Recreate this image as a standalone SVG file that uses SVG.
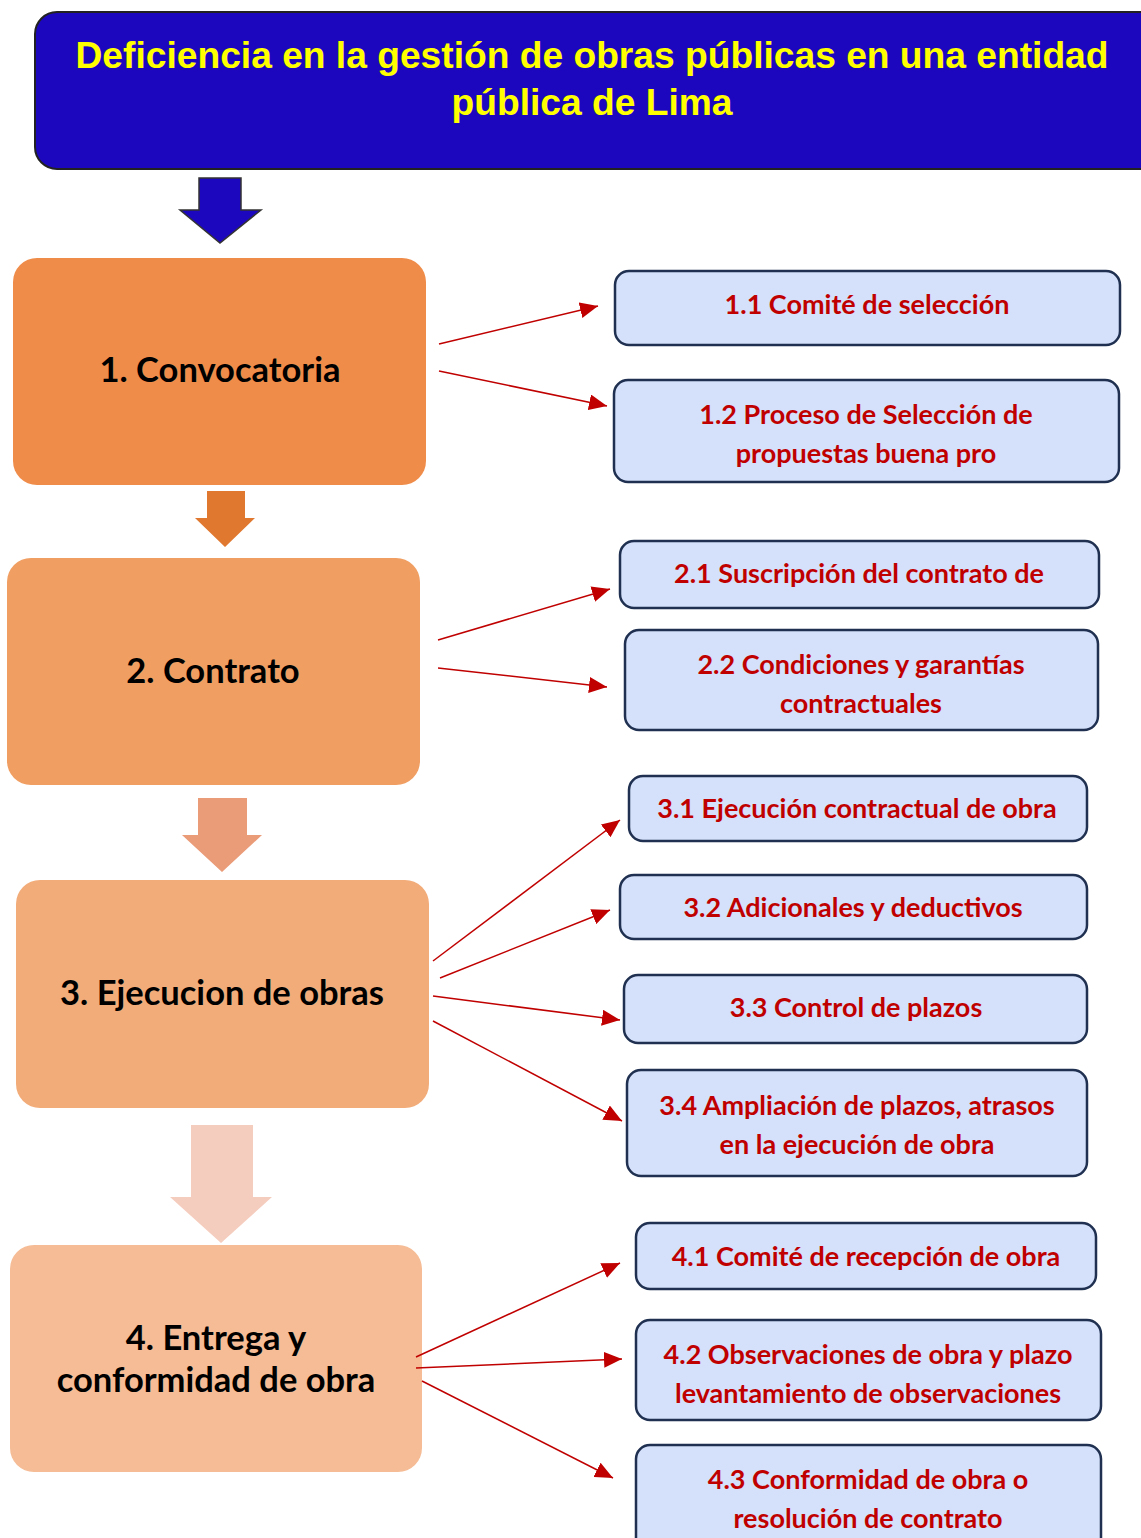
<svg xmlns="http://www.w3.org/2000/svg" width="1141" height="1538" viewBox="0 0 1141 1538">
<defs>
<style>
.main{font-family:Lato,"Open Sans",sans-serif;font-weight:bold;font-size:34.5px;fill:#000;text-anchor:middle}
.sub{font-family:Lato,"Open Sans",sans-serif;font-weight:bold;font-size:27px;fill:#C00000;text-anchor:middle}
.sbox{fill:#D5E0FB;stroke:#1F3050;stroke-width:2.5}
.con{stroke:#C00000;stroke-width:1.5;fill:none;marker-end:url(#ah)}
.hdr{font-family:"Liberation Sans",Arial,sans-serif;font-weight:bold;font-size:37px;fill:#FFFF00;text-anchor:middle}
</style>
<marker id="ah" markerUnits="userSpaceOnUse" markerWidth="20" markerHeight="16" refX="18" refY="8" orient="auto">
<path d="M0,0 L18,8 L0,16 Z" fill="#C00000"/>
</marker>
</defs>
<rect width="1141" height="1538" fill="#fff"/>

<g id="header">
<rect x="35" y="12" width="1130" height="157" rx="22" fill="#1C07BE" stroke="#222" stroke-width="2"/>
<text class="hdr" x="592" y="68" textLength="1033" lengthAdjust="spacingAndGlyphs">Deficiencia en la gestión de obras públicas en una entidad</text>
<text class="hdr" x="592" y="115" textLength="281" lengthAdjust="spacingAndGlyphs">pública de Lima</text>
</g>

<g id="arrow0"><path d="M199,178 H241 V210 H261 L220,243 L180,210 H199 Z" fill="#1C07BE" stroke="#333" stroke-width="1.5"/></g>

<g id="n1">
<rect x="13" y="258" width="413" height="227" rx="24" fill="#EF8C4A"/>
<text class="main" x="220" y="382">1. Convocatoria</text>
</g>
<g id="arrow1"><path d="M207,491 H245 V518 H255 L225,547 L195,518 H207 Z" fill="#E07830"/></g>

<g id="n2">
<rect x="7" y="558" width="413" height="227" rx="24" fill="#F09E62"/>
<text class="main" x="213" y="683">2. Contrato</text>
</g>
<g id="arrow2"><path d="M198,798 H247 V835 H262 L222,872 L182,835 H198 Z" fill="#EA9B78"/></g>

<g id="n3">
<rect x="16" y="880" width="413" height="228" rx="24" fill="#F2AC7A"/>
<text class="main" x="222" y="1005">3. Ejecucion de obras</text>
</g>
<g id="arrow3"><path d="M191,1125 H253 V1197 H272 L221,1243 L170,1197 H191 Z" fill="#F5CDBF"/></g>

<g id="n4">
<rect x="10" y="1245" width="412" height="227" rx="24" fill="#F5BC95"/>
<text class="main" x="216" y="1350">4. Entrega y</text>
<text class="main" x="216" y="1392">conformidad de obra</text>
</g>

<g id="n11"><rect class="sbox" x="615" y="271" width="505" height="74" rx="14"/><text class="sub" x="867" y="314">1.1 Comité de selección</text></g>
<g id="n12"><rect class="sbox" x="614" y="380" width="505" height="102" rx="14"/><text class="sub" x="866" y="424">1.2 Proceso de Selección de</text><text class="sub" x="866" y="463">propuestas buena pro</text></g>
<g id="n21"><rect class="sbox" x="620" y="541" width="479" height="67" rx="14"/><text class="sub" x="859" y="583">2.1 Suscripción del contrato de</text></g>
<g id="n22"><rect class="sbox" x="625" y="630" width="473" height="100" rx="14"/><text class="sub" x="861" y="674">2.2 Condiciones y garantías</text><text class="sub" x="861" y="713">contractuales</text></g>
<g id="n31"><rect class="sbox" x="629" y="776" width="458" height="65" rx="14"/><text class="sub" x="857" y="818">3.1 Ejecución contractual de obra</text></g>
<g id="n32"><rect class="sbox" x="620" y="875" width="467" height="64" rx="14"/><text class="sub" x="853" y="917">3.2 Adicionales y deductivos</text></g>
<g id="n33"><rect class="sbox" x="624" y="975" width="463" height="68" rx="14"/><text class="sub" x="856" y="1017">3.3 Control de plazos</text></g>
<g id="n34"><rect class="sbox" x="627" y="1070" width="460" height="106" rx="14"/><text class="sub" x="857" y="1115">3.4 Ampliación de plazos, atrasos</text><text class="sub" x="857" y="1154">en la ejecución de obra</text></g>
<g id="n41"><rect class="sbox" x="636" y="1223" width="460" height="66" rx="14"/><text class="sub" x="866" y="1266">4.1 Comité de recepción de obra</text></g>
<g id="n42"><rect class="sbox" x="636" y="1320" width="465" height="100" rx="14"/><text class="sub" x="868" y="1364">4.2 Observaciones de obra y plazo</text><text class="sub" x="868" y="1403">levantamiento de observaciones</text></g>
<g id="n43"><rect class="sbox" x="636" y="1445" width="465" height="110" rx="14"/><text class="sub" x="868" y="1489">4.3 Conformidad de obra o</text><text class="sub" x="868" y="1528">resolución de contrato</text></g>

<g id="connectors">
<line class="con" x1="439" y1="344" x2="598" y2="306"/>
<line class="con" x1="439" y1="371" x2="607" y2="406"/>
<line class="con" x1="438" y1="640" x2="610" y2="589"/>
<line class="con" x1="438" y1="668" x2="607" y2="687"/>
<line class="con" x1="433" y1="961" x2="620" y2="820"/>
<line class="con" x1="440" y1="978" x2="610" y2="910"/>
<line class="con" x1="433" y1="996" x2="620" y2="1020"/>
<line class="con" x1="433" y1="1021" x2="622" y2="1121"/>
<line class="con" x1="416" y1="1357" x2="620" y2="1263"/>
<line class="con" x1="416" y1="1368" x2="622" y2="1359"/>
<line class="con" x1="422" y1="1381" x2="613" y2="1478"/>
</g>
</svg>
